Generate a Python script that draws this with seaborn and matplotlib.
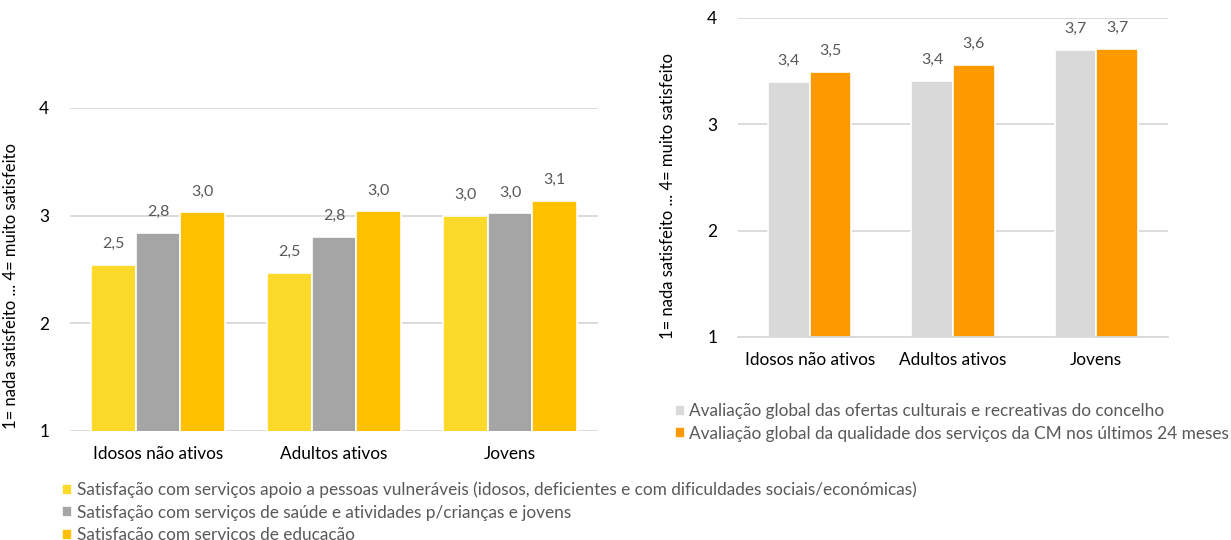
import numpy as np
import pandas as pd
import matplotlib
matplotlib.use("Agg")
import matplotlib.pyplot as plt
import seaborn as sns

# data
grupos = ["Idosos não ativos", "Adultos ativos", "Jovens"]

series_esq = [
    "Satisfação com serviços apoio a pessoas vulneráveis (idosos, deficientes e com dificuldades sociais/económicas)",
    "Satisfação com serviços de saúde e atividades p/crianças e jovens",
    "Satisfação com serviços de educação",
]
vulneraveis = [2.54, 2.47, 3.00]
saude = [2.84, 2.80, 3.02]
educacao = [3.03, 3.04, 3.14]

series_dir = [
    "Avaliação global das ofertas culturais e recreativas do concelho",
    "Avaliação global da qualidade dos serviços da CM nos últimos 24 meses",
]
culturais = [3.40, 3.41, 3.70]
servicos_cm = [3.49, 3.56, 3.71]

cores_esq = ["#FCDA2C", "#A5A5A5", "#FFC000"]
cores_dir = ["#D9D9D9", "#FF9900"]

ylab = "1= nada satisfeito ... 4= muito satisfeito"

sns.set_style("white")
plt.rcParams["font.family"] = ["Lato", "DejaVu Sans"]

df_esq = pd.DataFrame({
    "grupo": grupos * 3,
    "serie": [series_esq[0]] * 3 + [series_esq[1]] * 3 + [series_esq[2]] * 3,
    "valor": vulneraveis + saude + educacao,
})
df_dir = pd.DataFrame({
    "grupo": grupos * 2,
    "serie": [series_dir[0]] * 3 + [series_dir[1]] * 3,
    "valor": culturais + servicos_cm,
})

fig = plt.figure(figsize=(12.31, 5.40), dpi=100)
ax1 = fig.add_axes([0.0569, 0.202, 0.4289, 0.598])
ax2 = fig.add_axes([0.5995, 0.376, 0.3493, 0.5907])

FS = 12.4


def desenha(ax, df, cores, largura):
    sns.barplot(data=df, x="grupo", y="valor", hue="serie", palette=cores,
                saturation=1, width=largura, edgecolor="white", linewidth=1.2,
                ax=ax, legend=True)
    ax.set_ylim(1, 4)
    ax.set_xlim(-0.5, 2.5)
    ax.set_yticks([1, 2, 3, 4])
    ax.yaxis.grid(True, color="#D9D9D9", linewidth=1.3)
    ax.set_axisbelow(True)
    for s in ["top", "right", "left", "bottom"]:
        ax.spines[s].set_visible(False)
    ax.set_xlabel("")
    ax.set_ylabel(ylab, fontsize=12, color="#000000")
    ax.tick_params(axis="y", length=0, labelsize=FS, pad=15, labelcolor="#000000")
    ax.tick_params(axis="x", length=0, labelsize=FS, pad=11, labelcolor="#000000")
    for cont in ax.containers:
        ax.bar_label(cont, labels=[f"{v:.1f}".replace(".", ",") for v in cont.datavalues],
                     padding=10, fontsize=11.5, color="#595959")


desenha(ax1, df_esq, cores_esq, 0.76)
desenha(ax2, df_dir, cores_dir, 0.58)

# right chart has an x axis line with tick marks between categories
ax2.spines["bottom"].set_visible(True)
ax2.spines["bottom"].set_color("#D9D9D9")
ax2.spines["bottom"].set_linewidth(1.3)
ax2.set_xticks([-0.5, 0.5, 1.5, 2.5], minor=True)
ax2.tick_params(axis="x", which="minor", length=6, color="#D9D9D9", width=1.3)

ax1.yaxis.set_label_coords(-0.097, 0.45)
ax2.yaxis.set_label_coords(-0.144, 0.442)

h1, l1 = ax1.get_legend_handles_labels()
ax1.get_legend().remove()
fig.legend(h1, l1, loc="upper left", bbox_to_anchor=(0.0504, 0.108), frameon=False,
           borderpad=0, borderaxespad=0,
           handlelength=0.6, handleheight=0.6, handletextpad=0.25,
           labelspacing=0.38, labelcolor="#595959",
           prop={"size": FS})

h2, l2 = ax2.get_legend_handles_labels()
ax2.get_legend().remove()
fig.legend(h2, l2, loc="upper left", bbox_to_anchor=(0.548, 0.253), frameon=False,
           borderpad=0, borderaxespad=0,
           handlelength=0.6, handleheight=0.6, handletextpad=0.25,
           labelspacing=0.38, labelcolor="#595959",
           prop={"size": FS})

fig.savefig("out.png", dpi=100)
